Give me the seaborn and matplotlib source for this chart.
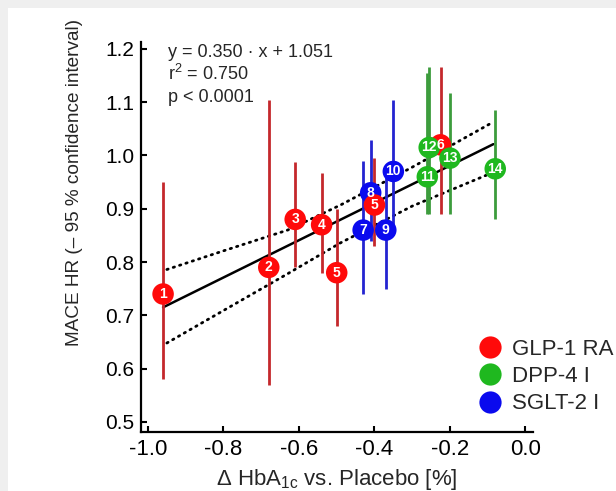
import numpy as np
import pandas as pd
import matplotlib
matplotlib.use("Agg")
import matplotlib.pyplot as plt
import seaborn as sns
from matplotlib.lines import Line2D
from matplotlib.patches import Rectangle

# ---------------- data ----------------
study_labels = ["1", "2", "3", "4", "5", "5", "6",
                "7", "8", "9", "10",
                "11", "12", "13", "14"]
drug_class = ["GLP-1 RA"] * 7 + ["SGLT-2 I"] * 4 + ["DPP-4 I"] * 4
delta_hba1c = [-0.96, -0.68, -0.61, -0.54, -0.50, -0.40, -0.225,
               -0.43, -0.41, -0.37, -0.35,
               -0.26, -0.255, -0.20, -0.08]
mace_hr = [0.74, 0.79, 0.88, 0.87, 0.78, 0.907, 1.02,
           0.86, 0.93, 0.86, 0.97,
           0.96, 1.015, 0.995, 0.975]
ci_low = [0.58, 0.57, 0.79, 0.78, 0.68, 0.83, 0.89,
          0.74, 0.84, 0.75, 0.85,
          0.89, 0.89, 0.89, 0.88]
ci_high = [0.95, 1.105, 0.987, 0.968, 0.90, 0.996, 1.166,
           0.99, 1.03, 0.965, 1.105,
           1.155, 1.166, 1.117, 1.085]

fit_slope = 0.350
fit_intercept = 1.051
fit_x_range = [-0.96, -0.085]
band_x = [-0.95, -0.80, -0.63, -0.49, -0.30, -0.09]
band_upper = [0.786, 0.821, 0.860, 0.907, 0.978, 1.061]
band_lower = [0.648, 0.709, 0.778, 0.836, 0.905, 0.967]

legend_order = ["GLP-1 RA", "DPP-4 I", "SGLT-2 I"]
draw_order = ["SGLT-2 I", "GLP-1 RA", "DPP-4 I"]
x_ticks = [-1.0, -0.8, -0.6, -0.4, -0.2, 0.0]
y_ticks = [0.5, 0.6, 0.7, 0.8, 0.9, 1.0, 1.1, 1.2]

marker_colors = {"GLP-1 RA": "#ff0a0a", "DPP-4 I": "#1fb81f", "SGLT-2 I": "#0a0aee"}
bar_colors = {"GLP-1 RA": "#c4282c", "DPP-4 I": "#3c9c3c", "SGLT-2 I": "#2424d0"}

# ---------------- style ----------------
sns.set_style("ticks")
plt.rcParams["font.family"] = ["Liberation Sans", "DejaVu Sans"]
plt.rcParams["mathtext.default"] = "regular"
plt.rcParams["axes.unicode_minus"] = False

df = pd.DataFrame({
    "label": study_labels,
    "cls": drug_class,
    "x": delta_hba1c,
    "y": mace_hr,
    "lo": ci_low,
    "hi": ci_high,
})
df["order"] = df["cls"].map({c: i for i, c in enumerate(draw_order)})
df = df.sort_values("order", kind="stable").reset_index(drop=True)

fig = plt.figure(figsize=(6.16, 4.91), dpi=100)
fig.patch.set_facecolor("white")
fig.patches.append(Rectangle((0, 1 - 8 / 491), 1, 8 / 491, transform=fig.transFigure,
                             facecolor="#efefef", edgecolor="none", zorder=-10))
fig.patches.append(Rectangle((0, 0), 8 / 616, 1, transform=fig.transFigure,
                             facecolor="#efefef", edgecolor="none", zorder=-10))

ax = fig.add_axes([141 / 616, 1 - 432 / 491, 392 / 616, 390 / 491])

# error bars
ax.vlines(df["x"], df["lo"], df["hi"], colors=[bar_colors[c] for c in df["cls"]],
          linewidth=2.0, zorder=2)

# regression line and confidence band
fit_df = pd.DataFrame({"x": fit_x_range,
                       "y": [fit_slope * v + fit_intercept for v in fit_x_range]})
sns.lineplot(data=fit_df, x="x", y="y", ax=ax, color="black", linewidth=1.8, zorder=1)
band_df = pd.DataFrame({"x": band_x, "up": band_upper, "lo": band_lower})
for col in ["up", "lo"]:
    sns.lineplot(data=band_df, x="x", y=col, ax=ax, color="black", linewidth=2.0,
                 linestyle=(0, (0.5, 1.9)), dash_capstyle="round", zorder=1)

# markers
sns.scatterplot(data=df, x="x", y="y", hue="cls", palette=marker_colors,
                s=240, edgecolor="none", linewidth=0, legend=False, ax=ax, zorder=3)
for _, r in df.iterrows():
    ax.text(r["x"], r["y"], r["label"], color="white", ha="center", va="center",
            fontsize=10, fontweight="bold", zorder=4)

ax.set_xlim(-1.0185, 0.02)
ax.set_ylim(0.481, 1.213)
ax.set_xticks(x_ticks)
ax.set_xticklabels([f"{v:.1f}" for v in x_ticks])
ax.set_yticks(y_ticks)
ax.set_yticklabels([f"{v:.1f}" for v in y_ticks])
ax.tick_params(direction="in", length=4, width=1.5, pad=5, colors="black")
ax.tick_params(axis="x", labelsize=16)
ax.tick_params(axis="y", labelsize=15)
for side in ["top", "right"]:
    ax.spines[side].set_visible(False)
for side in ["left", "bottom"]:
    ax.spines[side].set_linewidth(1.6)
    ax.spines[side].set_color("black")

ax.set_xlabel("Δ HbA$_{1c}$ vs. Placebo [%]", fontsize=16, labelpad=5)
ax.set_ylabel("MACE HR (– 95 % confidence interval)", fontsize=13.7, labelpad=9)
ax.yaxis.set_label_coords(-58 / 392, (432 - 183) / 390)

ax.text(0.069, 0.9615, "y = 0.350 · x + 1.051", transform=ax.transAxes,
        fontsize=13, va="baseline", ha="left")
ax.text(0.069, 0.9026, "r$^2$ = 0.750", transform=ax.transAxes,
        fontsize=13, va="baseline", ha="left")
ax.text(0.069, 0.846, "p < 0.0001", transform=ax.transAxes,
        fontsize=13, va="baseline", ha="left")

handles = [Line2D([0], [0], marker="o", linestyle="none", markersize=16,
                  markerfacecolor=marker_colors[c], markeredgecolor="none")
           for c in legend_order]
fig.legend(handles, legend_order, loc="upper left",
           bbox_to_anchor=(479.0 / 616, 1 - 339 / 491),
           frameon=False, fontsize=16, handlelength=1.0, handletextpad=0.5,
           labelspacing=0.28, borderpad=0, borderaxespad=0)

sns.despine(ax=ax)
fig.savefig("out.png", dpi=100, facecolor=fig.get_facecolor())
